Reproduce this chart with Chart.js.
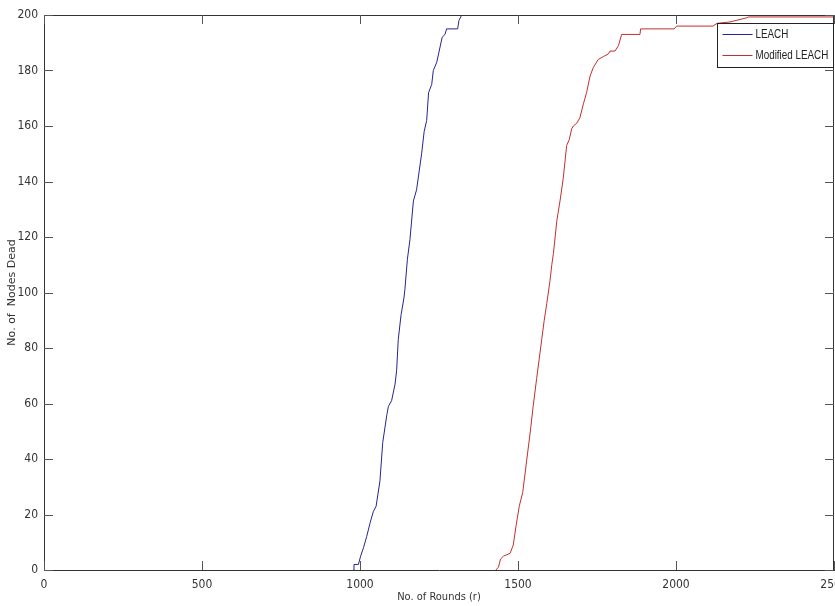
<!DOCTYPE html>
<html>
<head>
<meta charset="utf-8">
<script src="https://cdn.jsdelivr.net/npm/chart.js@4.4.1/dist/chart.umd.min.js"></script>
<style>
  html, body { margin: 0; padding: 0; background: #fff; overflow: hidden; }
  #wrap { width: 870px; height: 606px; }
</style>
</head>
<body>
<div id="wrap"><canvas id="chart" width="870" height="606"></canvas></div>
<script>
// rounds (x) and cumulative dead nodes (y)
const leachRounds = [979, 981, 995, 1002, 1011, 1021, 1032, 1042, 1051, 1063, 1072, 1085, 1090, 1100, 1111, 1116, 1121, 1130, 1139, 1142, 1150, 1158, 1169, 1179, 1195, 1203, 1211, 1217, 1227, 1232, 1243, 1260, 1269, 1274, 1309, 1313, 1322, 1330];
const leachDead   = [0, 2, 2, 5, 8, 12, 17, 21, 23, 32, 46, 56, 59, 61, 67, 72, 83, 92, 98, 101, 112, 119, 133, 137, 150, 158, 162, 172, 175, 180, 183, 192, 193, 195, 195, 198, 200, 200];

const modRounds = [1430, 1438, 1445, 1454, 1475, 1485, 1494, 1504, 1515, 1528, 1538, 1548, 1559, 1567, 1575, 1583, 1591, 1601, 1607, 1612, 1623, 1633, 1643, 1654, 1662, 1670, 1675, 1686, 1696, 1707, 1717, 1728, 1738, 1754, 1770, 1786, 1791, 1807, 1818, 1828, 1886, 1888, 1994, 2002, 2117, 2130, 2171, 2224, 2230, 2500];
const modDead   = [0, 1, 4, 5, 6, 9, 16, 23, 28, 40, 49, 59, 69, 76, 83, 90, 96, 104, 110, 114, 126, 133, 141, 153, 155, 159, 160, 161, 163, 168, 172, 178, 181, 184, 185, 186, 187, 187, 189, 193, 193, 195, 195, 196, 196, 197, 197.5, 199, 199.3, 199.3];

const xTicks = [0, 500, 1000, 1500, 2000, 2500];
const yTicks = [0, 20, 40, 60, 80, 100, 120, 140, 160, 180, 200];

const seriesNames = ["LEACH", "Modified LEACH"];

const toPoints = (xs, ys) => xs.map((x, i) => ({ x: x, y: ys[i] }));

const narrow = "'DejaVu Sans Condensed', 'DejaVu Sans', sans-serif";

// matlab style box: inward ticks on all four sides plus a legend box
const matlabFrame = {
  id: "matlabFrame",
  afterDraw(chart) {
    const ctx = chart.ctx;
    const a = chart.chartArea;
    const xs = chart.scales.x;
    const ys = chart.scales.y;
    const tl = 9;
    ctx.save();
    ctx.strokeStyle = "#333";
    ctx.lineWidth = 1;
    ctx.beginPath();
    ctx.moveTo(a.left, a.top + 0.5);
    ctx.lineTo(a.right, a.top + 0.5);
    ctx.moveTo(a.right - 0.5, a.top);
    ctx.lineTo(a.right - 0.5, a.bottom);
    ctx.stroke();

    ctx.strokeStyle = "#555";
    ctx.beginPath();
    xTicks.forEach(v => {
      const px = Math.round(xs.getPixelForValue(v)) + 0.5;
      ctx.moveTo(px, a.bottom);
      ctx.lineTo(px, a.bottom - tl);
      ctx.moveTo(px, a.top);
      ctx.lineTo(px, a.top + tl);
    });
    yTicks.forEach(v => {
      const py = Math.round(ys.getPixelForValue(v)) + 0.5;
      ctx.moveTo(a.left, py);
      ctx.lineTo(a.left + tl, py);
      ctx.moveTo(a.right, py);
      ctx.lineTo(a.right - tl, py);
    });
    ctx.stroke();

    // legend
    const bw = 116, bh = 44;
    const bx = a.right - bw - 0.5, by = a.top + 8.5;
    ctx.fillStyle = "#fff";
    ctx.fillRect(bx, by, bw, bh);
    ctx.strokeStyle = "#222";
    ctx.strokeRect(bx, by, bw, bh);
    ctx.textBaseline = "middle";
    chart.data.datasets.forEach((ds, i) => {
      const ly = by + 11 + i * 21;
      ctx.strokeStyle = ds.borderColor;
      ctx.beginPath();
      ctx.moveTo(bx + 5, ly);
      ctx.lineTo(bx + 35, ly);
      ctx.stroke();
      ctx.save();
      ctx.translate(bx + 38, ly);
      ctx.scale(0.82, 1);
      ctx.font = "12px 'Liberation Sans', Arial, sans-serif";
      ctx.fillStyle = "#222";
      ctx.fillText(ds.label, 0, 0);
      ctx.restore();
    });
    ctx.restore();
  }
};

new Chart(document.getElementById("chart"), {
  type: "line",
  data: {
    datasets: [
      {
        label: seriesNames[0],
        data: toPoints(leachRounds, leachDead),
        borderColor: "#24248f",
        borderWidth: 1,
        pointRadius: 0,
        tension: 0,
        fill: false
      },
      {
        label: seriesNames[1],
        data: toPoints(modRounds, modDead),
        borderColor: "#c42e2e",
        borderWidth: 1,
        pointRadius: 0,
        tension: 0,
        fill: false
      }
    ]
  },
  options: {
    responsive: false,
    animation: false,
    layout: { padding: { top: 15, right: 36, left: 0, bottom: 0 } },
    plugins: {
      legend: { display: false },
      tooltip: { enabled: false }
    },
    scales: {
      x: {
        type: "linear",
        min: 0,
        max: 2500,
        afterFit: s => { s.height = 36; },
        afterBuildTicks: s => { s.ticks = xTicks.map(v => ({ value: v })); },
        grid: { display: false, drawTicks: false },
        border: { display: true, color: "#333", width: 1 },
        ticks: {
          padding: 8,
          color: "#333",
          font: { family: narrow, size: 12 },
          maxRotation: 0,
          callback: v => String(v)
        },
        title: {
          display: true,
          text: "No. of Rounds (r)",
          color: "#333",
          font: { family: "'DejaVu Sans Condensed', sans-serif", size: 11 },
          padding: { top: 0, bottom: 2 }
        }
      },
      y: {
        type: "linear",
        min: 0,
        max: 200,
        afterFit: s => { s.width = 44; },
        afterBuildTicks: s => { s.ticks = yTicks.map(v => ({ value: v })); },
        grid: { display: false, drawTicks: false },
        border: { display: true, color: "#333", width: 1 },
        ticks: {
          padding: 6,
          color: "#333",
          font: { family: narrow, size: 12 },
          callback: v => String(v)
        },
        title: {
          display: true,
          text: "No. of  Nodes Dead",
          color: "#333",
          font: { family: "'DejaVu Sans', sans-serif", size: 11 },
          padding: { top: 6, bottom: 0 }
        }
      }
    }
  },
  plugins: [matlabFrame]
});
</script>
</body>
</html>
